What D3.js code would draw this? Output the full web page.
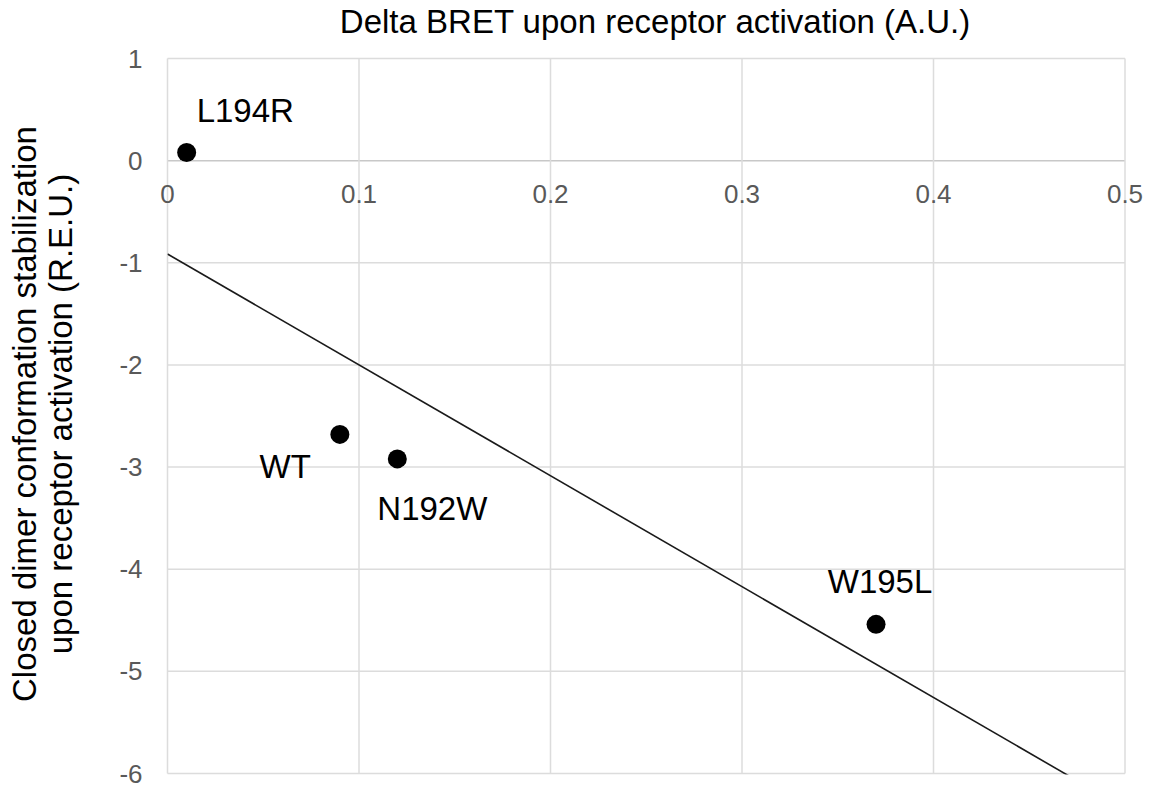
<!DOCTYPE html>
<html>
<head>
<meta charset="utf-8">
<script src="https://d3js.org/d3.v7.min.js"></script>
<style>
  body { margin: 0; background: #fff; }
  text { font-family: "Liberation Sans", Arial, sans-serif; }
</style>
</head>
<body>
<div id="chart"></div>
<script>
// mutant names and their values
var mutants = ["L194R", "WT", "N192W", "W195L"];
var deltaBret = [0.01, 0.09, 0.12, 0.37];
var closedStab = [0.08, -2.68, -2.92, -4.54];

var xTicks = [0, 0.1, 0.2, 0.3, 0.4, 0.5];
var yTicks = [1, 0, -1, -2, -3, -4, -5, -6];

// label placement (pixels relative to the marker)
var labelPos = {
  "L194R": {dx: 10, dy: -30, anchor: "start"},
  "WT":    {dx: -29, dy: 44, anchor: "end"},
  "N192W": {dx: -20, dy: 61, anchor: "start"},
  "W195L": {dx: 4, dy: -31, anchor: "middle"}
};

var W = 1152, H = 790;
var margin = {top: 58.5, left: 167.5, right: 27, bottom: 16.5};
var width = W - margin.left - margin.right,
    height = H - margin.top - margin.bottom;

var svg = d3.select("#chart").append("svg")
  .attr("width", W).attr("height", H);

var g = svg.append("g")
  .attr("transform", "translate(" + margin.left + "," + margin.top + ")");

var x = d3.scaleLinear().domain([0, 0.5]).range([0, width]);
var y = d3.scaleLinear().domain([-6, 1]).range([height, 0]);

// gridlines
g.append("g").selectAll("line").data(yTicks).enter().append("line")
  .attr("x1", 0).attr("x2", width)
  .attr("y1", function(d) { return y(d); })
  .attr("y2", function(d) { return y(d); })
  .attr("stroke", function(d) { return d == 0 ? "#c8c8c8" : "#dcdcdc"; })
  .attr("stroke-width", 1.5);

g.append("g").selectAll("line").data(xTicks).enter().append("line")
  .attr("y1", 0).attr("y2", height)
  .attr("x1", function(d) { return x(d); })
  .attr("x2", function(d) { return x(d); })
  .attr("stroke", "#dcdcdc")
  .attr("stroke-width", 1.5);

// y tick labels
g.append("g").selectAll("text").data(yTicks).enter().append("text")
  .attr("x", -25)
  .attr("y", function(d) { return y(d); })
  .attr("dy", "0.35em")
  .attr("text-anchor", "end")
  .attr("fill", "#595959")
  .style("font-size", "26px")
  .text(function(d) { return d; });

// x tick labels, sitting under the zero line
g.append("g").selectAll("text").data(xTicks).enter().append("text")
  .attr("x", function(d) { return x(d); })
  .attr("y", y(0) + 42)
  .attr("text-anchor", "middle")
  .attr("fill", "#595959")
  .style("font-size", "26px")
  .text(function(d) { return d; });

// linear trendline from the points (least squares)
var mx = d3.mean(deltaBret), my = d3.mean(closedStab);
var sxy = d3.sum(deltaBret, function(v, i) { return (v - mx) * (closedStab[i] - my); });
var sxx = d3.sum(deltaBret, function(v) { return (v - mx) * (v - mx); });
var slope = sxy / sxx, icpt = my - slope * mx;

g.append("clipPath").attr("id", "clip")
  .append("rect").attr("width", width).attr("height", height + 1);

g.append("path")
  .datum([0, 0.5])
  .attr("clip-path", "url(#clip)")
  .attr("fill", "none")
  .attr("stroke", "#1a1a1a")
  .attr("stroke-width", 1.6)
  .attr("d", d3.line()
    .x(function(d) { return x(d); })
    .y(function(d) { return y(icpt + slope * d); }));

// points
var pts = mutants.map(function(m, i) { return {name: m, x: deltaBret[i], y: closedStab[i]}; });

g.append("g").selectAll("circle").data(pts).enter().append("circle")
  .attr("cx", function(d) { return x(d.x); })
  .attr("cy", function(d) { return y(d.y); })
  .attr("r", 9.5)
  .attr("fill", "#000");

g.append("g").selectAll("text").data(pts).enter().append("text")
  .attr("x", function(d) { return x(d.x) + labelPos[d.name].dx; })
  .attr("y", function(d) { return y(d.y) + labelPos[d.name].dy; })
  .attr("text-anchor", function(d) { return labelPos[d.name].anchor; })
  .attr("fill", "#000")
  .style("font-size", "33px")
  .text(function(d) { return d.name; });

// titles
svg.append("text")
  .attr("x", 655).attr("y", 33)
  .attr("text-anchor", "middle")
  .attr("fill", "#000")
  .style("font-size", "33px")
  .text("Delta BRET upon receptor activation (A.U.)");

var yt = svg.append("text")
  .attr("transform", "translate(0,414) rotate(-90)")
  .attr("text-anchor", "middle")
  .attr("fill", "#000")
  .style("font-size", "33px");
yt.append("tspan").attr("x", 0).attr("y", 36).text("Closed dimer conformation stabilization");
yt.append("tspan").attr("x", 0).attr("y", 72).text("upon receptor activation (R.E.U.)");
</script>
</body>
</html>
